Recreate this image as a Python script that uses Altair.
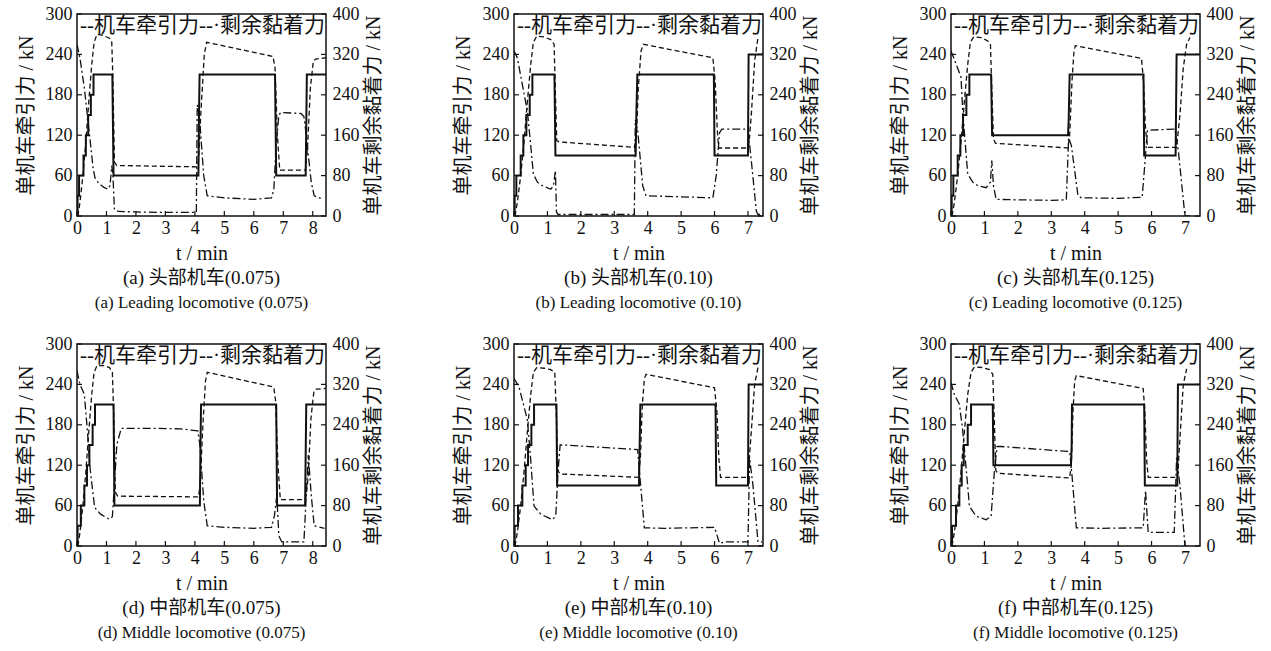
import altair as alt
import pandas as pd

FONT = "Liberation Serif, Noto Sans CJK SC"
W, H = 249, 202
LEGEND = "--机车牵引力--·剩余黏着力"
LEFT_TICKS = [0, 60, 120, 180, 240, 300]
RIGHT_TICKS = [0, 80, 160, 240, 320, 400]
X_TICKS_8 = [0, 1, 2, 3, 4, 5, 6, 7, 8]
X_TICKS_7 = [0, 1, 2, 3, 4, 5, 6, 7]

# ---------- (a) ----------
A_SOLID_T = [0, 0.02, 0.02, 0.07, 0.07, 0.22, 0.22, 0.3, 0.3, 0.38, 0.38, 0.47, 0.47, 0.56, 0.56, 1.2, 1.24, 4.12, 4.14, 4.16, 6.72, 6.76, 7.76, 7.8, 8.45]
A_SOLID_V = [0, 0, 30, 30, 60, 60, 90, 90, 120, 120, 150, 150, 180, 180, 210, 210, 60, 60, 150, 210, 210, 60, 60, 210, 210]
A_DASH_T = [0.03, 0.1, 0.2, 0.3, 0.4, 0.5, 0.58, 0.68, 0.9, 1.1, 1.18, 1.22, 1.27, 1.35, 4.05, 4.12, 4.2, 4.32, 4.4, 6.65, 6.72, 6.8, 6.88, 7.75, 7.82, 7.92, 8.02, 8.1, 8.45]
A_DASH_V = [0, 20, 60, 110, 170, 225, 258, 270, 268, 264, 258, 200, 80, 75, 73, 80, 150, 240, 258, 237, 220, 120, 68, 68, 100, 190, 230, 233, 235]
A_DD_T = [0, 0.1, 0.25, 0.35, 0.45, 0.55, 0.62, 0.75, 0.9, 1.05, 1.12, 1.18, 1.22, 1.27, 1.4, 2, 3, 4.05, 4.08, 4.15, 4.3, 4.42, 5, 6, 6.6, 6.68, 6.75, 6.85, 6.92, 7.6, 7.7, 7.78, 7.85, 7.95, 8.05, 8.35]
A_DD_V = [340, 313, 253, 200, 147, 93, 73, 64, 57, 53, 60, 100, 80, 13, 9, 8, 7, 7, 220, 200, 80, 40, 36, 33, 36, 53, 133, 200, 205, 203, 197, 160, 120, 67, 40, 33]

# ---------- (b) ----------
B_SOLID_T = [0, 0.02, 0.02, 0.07, 0.07, 0.2, 0.2, 0.28, 0.28, 0.37, 0.37, 0.47, 0.47, 0.55, 0.55, 1.21, 1.24, 3.64, 3.66, 3.69, 5.98, 6.0, 7.0, 7.02, 7.45]
B_SOLID_V = [0, 0, 30, 30, 60, 60, 90, 90, 120, 120, 150, 150, 180, 180, 210, 210, 90, 90, 150, 210, 210, 90, 90, 240, 240]
B_DASH_T = [0.03, 0.1, 0.2, 0.3, 0.4, 0.5, 0.58, 0.68, 0.9, 1.1, 1.2, 1.24, 1.28, 1.35, 3.6, 3.66, 3.72, 3.8, 3.87, 5.95, 6.02, 6.08, 6.12, 7.02, 7.1, 7.2, 7.3]
B_DASH_V = [0, 20, 60, 110, 170, 225, 258, 267, 266, 262, 255, 180, 112, 110, 102, 115, 190, 245, 255, 235, 200, 130, 101, 101, 150, 230, 265]
B_DD_T = [0, 0.1, 0.25, 0.4, 0.5, 0.58, 0.7, 0.85, 1.1, 1.18, 1.24, 1.27, 1.32, 2, 3, 3.6, 3.63, 3.7, 3.85, 3.95, 5, 5.95, 6.05, 6.15, 6.22, 7.0, 7.1, 7.25, 7.3, 7.42]
B_DD_V = [327, 313, 260, 208, 140, 83, 67, 60, 53, 60, 90, 8, 3, 3, 3, 3, 190, 170, 60, 40, 38, 36, 80, 165, 172, 172, 110, 10, 3, 3]

# ---------- (c) ----------
C_SOLID_T = [0, 0.02, 0.02, 0.07, 0.07, 0.2, 0.2, 0.28, 0.28, 0.36, 0.36, 0.46, 0.46, 0.55, 0.55, 1.2, 1.23, 3.5, 3.52, 3.55, 5.76, 5.78, 6.72, 6.75, 7.45]
C_SOLID_V = [0, 0, 30, 30, 60, 60, 90, 90, 120, 120, 150, 150, 180, 180, 210, 210, 120, 120, 140, 210, 210, 90, 90, 240, 240]
C_DASH_T = [0.03, 0.1, 0.2, 0.3, 0.4, 0.5, 0.58, 0.68, 0.9, 1.1, 1.18, 1.22, 1.27, 1.33, 3.5, 3.55, 3.62, 3.68, 3.72, 5.7, 5.76, 5.82, 5.88, 6.75, 6.85, 6.95, 7.05, 7.15]
C_DASH_V = [0, 20, 60, 110, 170, 225, 258, 266, 265, 260, 255, 190, 115, 108, 101, 120, 200, 245, 253, 234, 200, 130, 102, 102, 150, 220, 255, 265]
C_DD_T = [0, 0.1, 0.3, 0.35, 0.5, 0.65, 0.8, 1.05, 1.18, 1.22, 1.27, 1.35, 2, 3, 3.45, 3.52, 3.6, 3.8, 3.9, 5, 5.72, 5.82, 5.88, 6.7, 6.8, 7.0, 7.15]
C_DD_V = [327, 310, 275, 208, 83, 67, 60, 56, 67, 110, 60, 33, 32, 31, 32, 155, 140, 40, 36, 35, 37, 120, 170, 172, 130, 0, 0]

# ---------- (d) ----------
D_SOLID_T = [0, 0.02, 0.02, 0.13, 0.13, 0.25, 0.25, 0.34, 0.34, 0.42, 0.42, 0.53, 0.53, 0.61, 0.61, 1.24, 1.27, 4.17, 4.19, 4.21, 6.76, 6.79, 7.74, 7.78, 8.45]
D_SOLID_V = [0, 0, 30, 30, 60, 60, 90, 90, 120, 120, 150, 150, 180, 180, 210, 210, 60, 60, 150, 210, 210, 60, 60, 210, 210]
D_DASH_T = [0.03, 0.1, 0.2, 0.3, 0.4, 0.5, 0.58, 0.68, 0.9, 1.1, 1.2, 1.25, 1.3, 1.38, 4.12, 4.18, 4.26, 4.36, 4.42, 6.68, 6.74, 6.82, 6.9, 7.76, 7.84, 7.94, 8.04, 8.12, 8.45]
D_DASH_V = [0, 20, 60, 110, 170, 225, 258, 268, 268, 265, 258, 190, 80, 74, 73, 90, 170, 245, 258, 236, 215, 120, 69, 69, 100, 190, 230, 233, 234]
D_DD_T = [0, 0.1, 0.25, 0.35, 0.45, 0.6, 0.8, 1.1, 1.2, 1.28, 1.35, 1.5, 2.5, 3.5, 4.1, 4.17, 4.3, 4.42, 5, 6, 6.6, 6.7, 6.78, 6.85, 6.95, 7.7, 7.78, 7.85, 7.95, 8.05, 8.4]
D_DD_V = [347, 320, 300, 230, 150, 76, 63, 53, 58, 130, 200, 233, 233, 232, 228, 200, 90, 40, 37, 35, 37, 60, 100, 20, 8, 8, 100, 180, 100, 40, 35]

# ---------- (e) ----------
E_SOLID_T = [0, 0.02, 0.02, 0.12, 0.12, 0.25, 0.25, 0.35, 0.35, 0.42, 0.42, 0.52, 0.52, 0.6, 0.6, 1.27, 1.29, 3.74, 3.76, 3.78, 6.03, 6.05, 7.0, 7.02, 7.45]
E_SOLID_V = [0, 0, 30, 30, 60, 60, 90, 90, 120, 120, 150, 150, 180, 180, 210, 210, 90, 90, 150, 210, 210, 90, 90, 240, 240]
E_DASH_T = [0.03, 0.1, 0.2, 0.3, 0.4, 0.5, 0.58, 0.68, 0.9, 1.1, 1.22, 1.27, 1.31, 1.38, 3.72, 3.78, 3.84, 3.9, 3.95, 6.0, 6.07, 6.13, 6.18, 7.0, 7.1, 7.2, 7.3]
E_DASH_V = [0, 20, 60, 110, 170, 225, 258, 265, 264, 262, 258, 190, 112, 107, 102, 130, 210, 248, 255, 235, 200, 130, 102, 102, 170, 240, 265]
E_DD_T = [0, 0.15, 0.4, 0.5, 0.6, 0.8, 1.15, 1.25, 1.32, 1.38, 1.5, 3.7, 3.75, 3.9, 4.5, 6.0, 6.08, 6.15, 6.3, 7.0, 7.05, 7.15, 7.3, 7.42]
E_DD_V = [332, 315, 250, 170, 79, 63, 52, 60, 150, 200, 200, 191, 150, 36, 35, 37, 20, 5, 8, 8, 173, 120, 8, 8]

# ---------- (f) ----------
F_SOLID_T = [0, 0.03, 0.03, 0.15, 0.15, 0.25, 0.25, 0.32, 0.32, 0.38, 0.38, 0.5, 0.5, 0.6, 0.6, 1.25, 1.27, 3.59, 3.61, 3.62, 5.78, 5.8, 6.77, 6.79, 7.45]
F_SOLID_V = [0, 0, 30, 30, 60, 60, 90, 90, 120, 120, 150, 150, 180, 180, 210, 210, 120, 120, 150, 210, 210, 90, 90, 240, 240]
F_DASH_T = [0.03, 0.1, 0.2, 0.3, 0.4, 0.5, 0.6, 0.7, 0.95, 1.15, 1.25, 1.3, 1.34, 1.4, 3.55, 3.6, 3.65, 3.7, 3.75, 5.75, 5.8, 5.85, 5.9, 6.78, 6.85, 6.95, 7.05]
F_DASH_V = [0, 20, 60, 110, 170, 225, 258, 266, 265, 262, 255, 180, 112, 108, 101, 120, 200, 245, 253, 234, 200, 130, 102, 102, 160, 240, 263]
F_DD_T = [0, 0.1, 0.25, 0.35, 0.5, 0.55, 0.75, 1.05, 1.2, 1.3, 1.38, 1.5, 3.55, 3.62, 3.75, 4.5, 5.75, 5.82, 5.9, 6.68, 6.75, 6.85, 7.0, 7.05]
F_DD_V = [324, 300, 281, 229, 119, 79, 59, 52, 59, 150, 197, 197, 187, 140, 36, 35, 36, 110, 27, 27, 175, 120, 0, 0]

CAPTIONS_CN = {
    "a": "(a)  头部机车(0.075)", "b": "(b)  头部机车(0.10)", "c": "(c)  头部机车(0.125)",
    "d": "(d)  中部机车(0.075)", "e": "(e)  中部机车(0.10)", "f": "(f)  中部机车(0.125)",
}
CAPTIONS_EN = {
    "a": "(a)  Leading locomotive (0.075)", "b": "(b)  Leading locomotive (0.10)",
    "c": "(c)  Leading locomotive (0.125)", "d": "(d)  Middle locomotive (0.075)",
    "e": "(e)  Middle locomotive (0.10)", "f": "(f)  Middle locomotive (0.125)",
}


def panel(key, xmax, xticks, st, sv, dt, dv, ddt, ddv):
    xs = alt.Scale(domain=[0, xmax], nice=False, zero=False)
    ysl = alt.Scale(domain=[0, 300], nice=False)
    ysr = alt.Scale(domain=[0, 400], nice=False)

    main = pd.DataFrame({
        "t": st + dt,
        "v": sv + dv,
        "s": ["solid"] * len(st) + ["dash"] * len(dt),
        "i": list(range(len(st))) + list(range(len(dt))),
    })
    dd = pd.DataFrame({"t": ddt, "v": ddv, "i": list(range(len(ddt)))})

    def xaxis():
        return alt.Axis(values=xticks, format="d", title="t / min", ticks=False,
                        domain=False, grid=False, labelPadding=3, titlePadding=6,
                        labelFlush=False, titleFont=FONT, labelFont=FONT)

    yaxis_l = alt.Axis(values=LEFT_TICKS, title="单机车牵引力 / kN", ticks=False,
                       domain=False, grid=False, labelPadding=5, titlePadding=9,
                       labelFlush=False, titleFont=FONT, labelFont=FONT)
    yaxis_r = alt.Axis(values=RIGHT_TICKS, title="单机车剩余黏着力 / kN", ticks=False,
                       domain=False, grid=False, labelPadding=6, titlePadding=4,
                       labelFlush=False, orient="right", titleAngle=270,
                       titleBaseline="top", titleFont=FONT, labelFont=FONT)

    lines = alt.Chart(main).mark_line(color="#111", clip=True).encode(
        x=alt.X("t:Q", scale=xs, axis=xaxis()),
        y=alt.Y("v:Q", scale=ysl, axis=yaxis_l),
        detail="s:N",
        order="i:Q",
        strokeDash=alt.StrokeDash("s:N", scale=alt.Scale(domain=["solid", "dash"], range=[[1, 0], [5, 3]]), legend=None),
        strokeWidth=alt.StrokeWidth("s:N", scale=alt.Scale(domain=["solid", "dash"], range=[2.0, 1.3]), legend=None),
    )
    dashdot = alt.Chart(dd).mark_line(color="#111", strokeWidth=1.3, strokeDash=[8, 3, 2, 3], clip=True).encode(
        x=alt.X("t:Q", scale=xs, axis=xaxis()),
        y=alt.Y("v:Q", scale=ysr, axis=yaxis_r),
        order="i:Q",
    )
    lt = alt.Chart(pd.DataFrame({"y": LEFT_TICKS})).mark_rule(color="#111", strokeWidth=1.2).encode(
        y=alt.Y("y:Q", scale=ysl, axis=None), x=alt.value(0), x2=alt.value(5))
    rt = alt.Chart(pd.DataFrame({"y": RIGHT_TICKS})).mark_rule(color="#111", strokeWidth=1.2).encode(
        y=alt.Y("y:Q", scale=ysr, axis=None), x=alt.value(W), x2=alt.value(W - 5))
    bt = alt.Chart(pd.DataFrame({"t": xticks})).mark_rule(color="#111", strokeWidth=1.2).encode(
        x=alt.X("t:Q", scale=xs, axis=xaxis()), y=alt.value(H), y2=alt.value(H - 5))
    leg = alt.Chart(pd.DataFrame({"label": [LEGEND]})).mark_text(
        font=FONT, fontSize=21, color="#111", baseline="middle", align="center").encode(
        x=alt.value(W / 2 + 1), y=alt.value(12), text="label:N")

    return alt.layer(lines, dashdot, lt, rt, bt, leg).resolve_scale(
        y="independent", strokeDash="independent", strokeWidth="independent"
    ).properties(
        width=W, height=H,
        title=alt.TitleParams(text=CAPTIONS_CN[key], subtitle=CAPTIONS_EN[key],
                              orient="bottom", anchor="middle", frame="group",
                              font=FONT, fontSize=19, fontWeight="normal", color="#111",
                              subtitleFont=FONT, subtitleFontSize=17, subtitleColor="#111",
                              subtitlePadding=7, offset=6),
    )


pa = panel("a", 8.45, X_TICKS_8, A_SOLID_T, A_SOLID_V, A_DASH_T, A_DASH_V, A_DD_T, A_DD_V)
pb = panel("b", 7.45, X_TICKS_7, B_SOLID_T, B_SOLID_V, B_DASH_T, B_DASH_V, B_DD_T, B_DD_V)
pc = panel("c", 7.45, X_TICKS_7, C_SOLID_T, C_SOLID_V, C_DASH_T, C_DASH_V, C_DD_T, C_DD_V)
pd_ = panel("d", 8.45, X_TICKS_8, D_SOLID_T, D_SOLID_V, D_DASH_T, D_DASH_V, D_DD_T, D_DD_V)
pe = panel("e", 7.45, X_TICKS_7, E_SOLID_T, E_SOLID_V, E_DASH_T, E_DASH_V, E_DD_T, E_DD_V)
pf = panel("f", 7.45, X_TICKS_7, F_SOLID_T, F_SOLID_V, F_DASH_T, F_DASH_V, F_DD_T, F_DD_V)

row1 = alt.hconcat(pa, pb, pc, spacing=68)
row2 = alt.hconcat(pd_, pe, pf, spacing=68)

chart = alt.vconcat(row1, row2, spacing=22).properties(
    padding={"left": 15, "top": 4, "right": 5, "bottom": 5},
    background="white",
).configure_view(
    stroke="#111", strokeWidth=1.5
).configure_axis(
    labelFont=FONT, titleFont=FONT, labelFontSize=18, titleFontSize=20,
    titleFontWeight="normal", labelColor="#111", titleColor="#111",
)

chart.save("out.html", embed_options={"renderer": "svg", "actions": False})
